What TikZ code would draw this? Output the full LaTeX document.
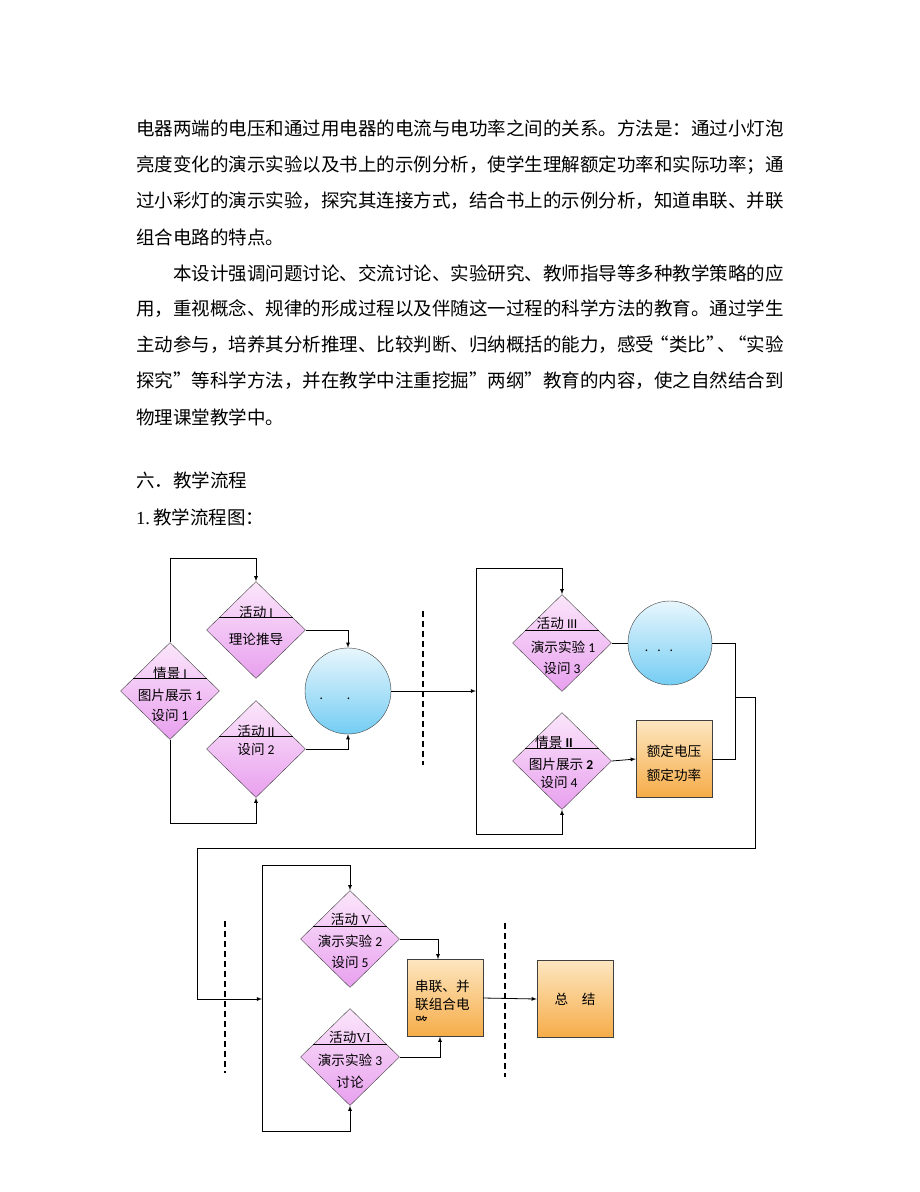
\documentclass[tikz,border=0pt]{standalone}
\usepackage{fontspec}
\setmainfont{Liberation Serif}
\newfontfamily\cjk{Noto Sans CJK SC}
\newfontfamily\lab{Carlito}
\usetikzlibrary{shapes.geometric,calc,arrows}
\definecolor{pinktop}{HTML}{FBE6FB}
\definecolor{pinkbot}{HTML}{E8A0EE}
\definecolor{bluetop}{HTML}{E8F6FD}
\definecolor{bluebot}{HTML}{74CDF3}
\definecolor{orgtop}{HTML}{FDE6C0}
\definecolor{orgbot}{HTML}{F6AC48}
\newcommand{\zh}[1]{{\cjk #1}}
\tikzset{
    diam/.style = {draw=black!75, diamond, minimum width=99pt,
        minimum height=97pt, inner sep=0pt, top color=pinktop, bottom color=pinkbot},
    ball/.style = {draw=black!75, circle, minimum size=86pt, inner sep=0pt,
        top color=bluetop, bottom color=bluebot},
    block/.style = {draw=black!75, rectangle, minimum width=76pt,
        minimum height=77pt, inner sep=0pt, top color=orgtop, bottom color=orgbot},
    arrow/.style = {draw, -latex, line width=0.8pt},
    wire/.style = {draw, line width=0.8pt},
    cut/.style = {dash pattern=on 6pt off 4pt, line width=1.3pt},
    lbl/.style = {font=\lab\fontsize{13.6}{15}\selectfont, inner sep=0pt},
    para/.style = {anchor=west, inner sep=0pt, font=\cjk\fontsize{18.5}{22}\selectfont}
}

\begin{document}
\begin{tikzpicture}[x=1pt, y=-1pt, >=latex]
    \fill[white] (0,0) rectangle (920,1192);
    % text of the page
    \node[para] (l1) at (136,128) {电器两端的电压和通过用电器的电流与电功率之间的关系。方法是：通过小灯泡};
    \node[para] (l2) at (136,165) {亮度变化的演示实验以及书上的示例分析，使学生理解额定功率和实际功率；通};
    \node[para] (l3) at (136,201) {过小彩灯的演示实验，探究其连接方式，结合书上的示例分析，知道串联、并联};
    \node[para] (l4) at (136,237) {组合电路的特点。};
    \node[para] (l5) at (173,273) {本设计强调问题讨论、交流讨论、实验研究、教师指导等多种教学策略的应};
    \node[para] (l6) at (136,309) {用，重视概念、规律的形成过程以及伴随这一过程的科学方法的教育。通过学生};
    \node[para] (l7) at (136,345) {主动参与，培养其分析推理、比较判断、归纳概括的能力，感受\kern-0.2em“类比”\kern-0.4em、\kern-0.4em“实验};
    \node[para] (l8) at (136,381) {探究”等科学方法，并在教学中注重挖掘”两纲”教育的内容，使之自然结合到};
    \node[para] (l9) at (136,417) {物理课堂教学中。};
    \node[para] (h1) at (136,480) {六．教学流程};
    \node[para] (h2) at (136,517) {{\rmfamily 1.}\,教学流程图：};

    % first part
    \node[diam] (q1) at (170,691) {};
    \node[diam] (a1) at (256,630) {};
    \node[diam] (a2) at (256,749) {};
    \node[ball] (c1) at (348,691) {};
    \node[lbl] (q1a) at (170,673) {\zh{情景} I};
    \node[lbl] (q1b) at (170,695) {\zh{图片展示} 1};
    \node[lbl] (q1c) at (170,715) {\zh{设问} 1};
    \node[lbl] (a1a) at (256,612) {\zh{活动} I};
    \node[lbl] (a1b) at (256,639) {\zh{理论推导}};
    \node[lbl] (a2a) at (256,731) {\zh{活动} II};
    \node[lbl] (a2b) at (256,749) {\zh{设问} 2};
    \node[lbl] (c1t) at (335,699) {.\hspace{24pt}.};
    \coordinate (top1) at (0,558);
    \coordinate (bot1) at (0,823);
    \draw[arrow] (q1.north) -- (q1.north |- top1) -| (a1.north);
    \draw[arrow] (q1.south) -- (q1.south |- bot1) -| (a2.south);
    \draw[arrow] (a1.east) -| (c1.north);
    \draw[arrow] (a2.east) -| (c1.south);

    % second part
    \coordinate (m1) at (476,568);
    \coordinate (m2) at (476,834);
    \node[diam] (a3) at (562,643) {};
    \node[diam] (q2) at (562,761) {};
    \node[ball, minimum size=84pt] (c2) at (670,643) {};
    \node[block] (b1) at (674,759) {};
    \node[lbl] (a3a) at (557,623) {\zh{活动} III};
    \node[lbl] (a3b) at (563,647) {\zh{演示实验} 1};
    \node[lbl] (a3c) at (562,668) {\zh{设问} 3};
    \node[lbl] (q2a) at (554,742) {\zh{情景} \textbf{II}};
    \node[lbl] (q2b) at (561,764) {\zh{图片展示} \textbf{2}};
    \node[lbl] (q2c) at (559,782) {\zh{设问} 4};
    \node[lbl] (c2t) at (659,651) {.\hspace{9pt}.\hspace{9pt}.};
    \node[lbl] (b1a) at (674,751) {\zh{额定电压}};
    \node[lbl] (b1b) at (674,775) {\zh{额定功率}};
    \draw[arrow] (c1.east) -- (c1.east -| m1);
    \draw[wire] (m1) -- (m2);
    \draw[arrow] (m1) -| (a3.north);
    \draw[arrow] (m2) -| (q2.south);
    \draw[wire] (a3.east) -- (c2.west);
    \draw[arrow] (q2.east) -- (b1.west);
    \coordinate (r1) at (735,643);
    \coordinate (j1) at (735,697);
    \draw[wire] (c2.east) -- (r1) -- (b1.east -| r1) -- (b1.east);

    % third part
    \coordinate (o1) at (755,848);
    \coordinate (o2) at (197,999);
    \coordinate (n1) at (262,865);
    \coordinate (n2) at (262,1131);
    \node[diam] (a5) at (350,939) {};
    \node[diam] (a6) at (350,1057) {};
    \node[block] (b2) at (445,998) {};
    \node[block] (b3) at (575,999) {};
    \node[lbl] (a5a) at (351,919) {\zh{活动} {\rmfamily V}};
    \node[lbl] (a5b) at (350,941) {\zh{演示实验} 2};
    \node[lbl] (a5c) at (350,962) {\zh{设问} 5};
    \node[lbl] (a6a) at (350,1037) {\zh{活动}{\rmfamily VI}};
    \node[lbl] (a6b) at (350,1060) {\zh{演示实验} 3};
    \node[lbl] (a6c) at (350,1082) {\zh{讨论}};
    \node[lbl, anchor=west] (b2a) at (415,986) {\zh{串联、并}};
    \node[lbl, anchor=west] (b2b) at (415,1004) {\zh{联组合电}};
    \begin{scope}
        \clip (410,1000) rectangle (480,1020);
        \node[lbl, anchor=west] (b2c) at (415,1022) {\zh{路}};
    \end{scope}
    \node[lbl] (b3a) at (575,999) {\zh{总　结}};
    \draw[arrow] (j1) -| (o1) -| (o2) -- (o2 -| n1);
    \draw[wire] (n1) -- (n2);
    \draw[arrow] (n1) -| (a5.north);
    \draw[arrow] (n2) -| (a6.south);
    \draw[arrow] (a5.east) -| ([xshift=-7pt]b2.north);
    \draw[arrow] (a6.east) -| ([xshift=-5pt]b2.south);
    \draw[arrow] (b2.east) -- (b3.west);

    % dividers in the diamonds
    \foreach \d in {q1,a1,a2,a3,q2,a5,a6}
        \draw[line width=0.8pt] ($(\d.north)!0.74!(\d.west)$) -- ($(\d.north)!0.74!(\d.east)$);

    % stage cuts
    \draw[cut] (423,611) -- (423,765);
    \draw[cut] (225,921) -- (225,1073);
    \draw[cut] (505,923) -- (505,1077);
\end{tikzpicture}
\end{document}
